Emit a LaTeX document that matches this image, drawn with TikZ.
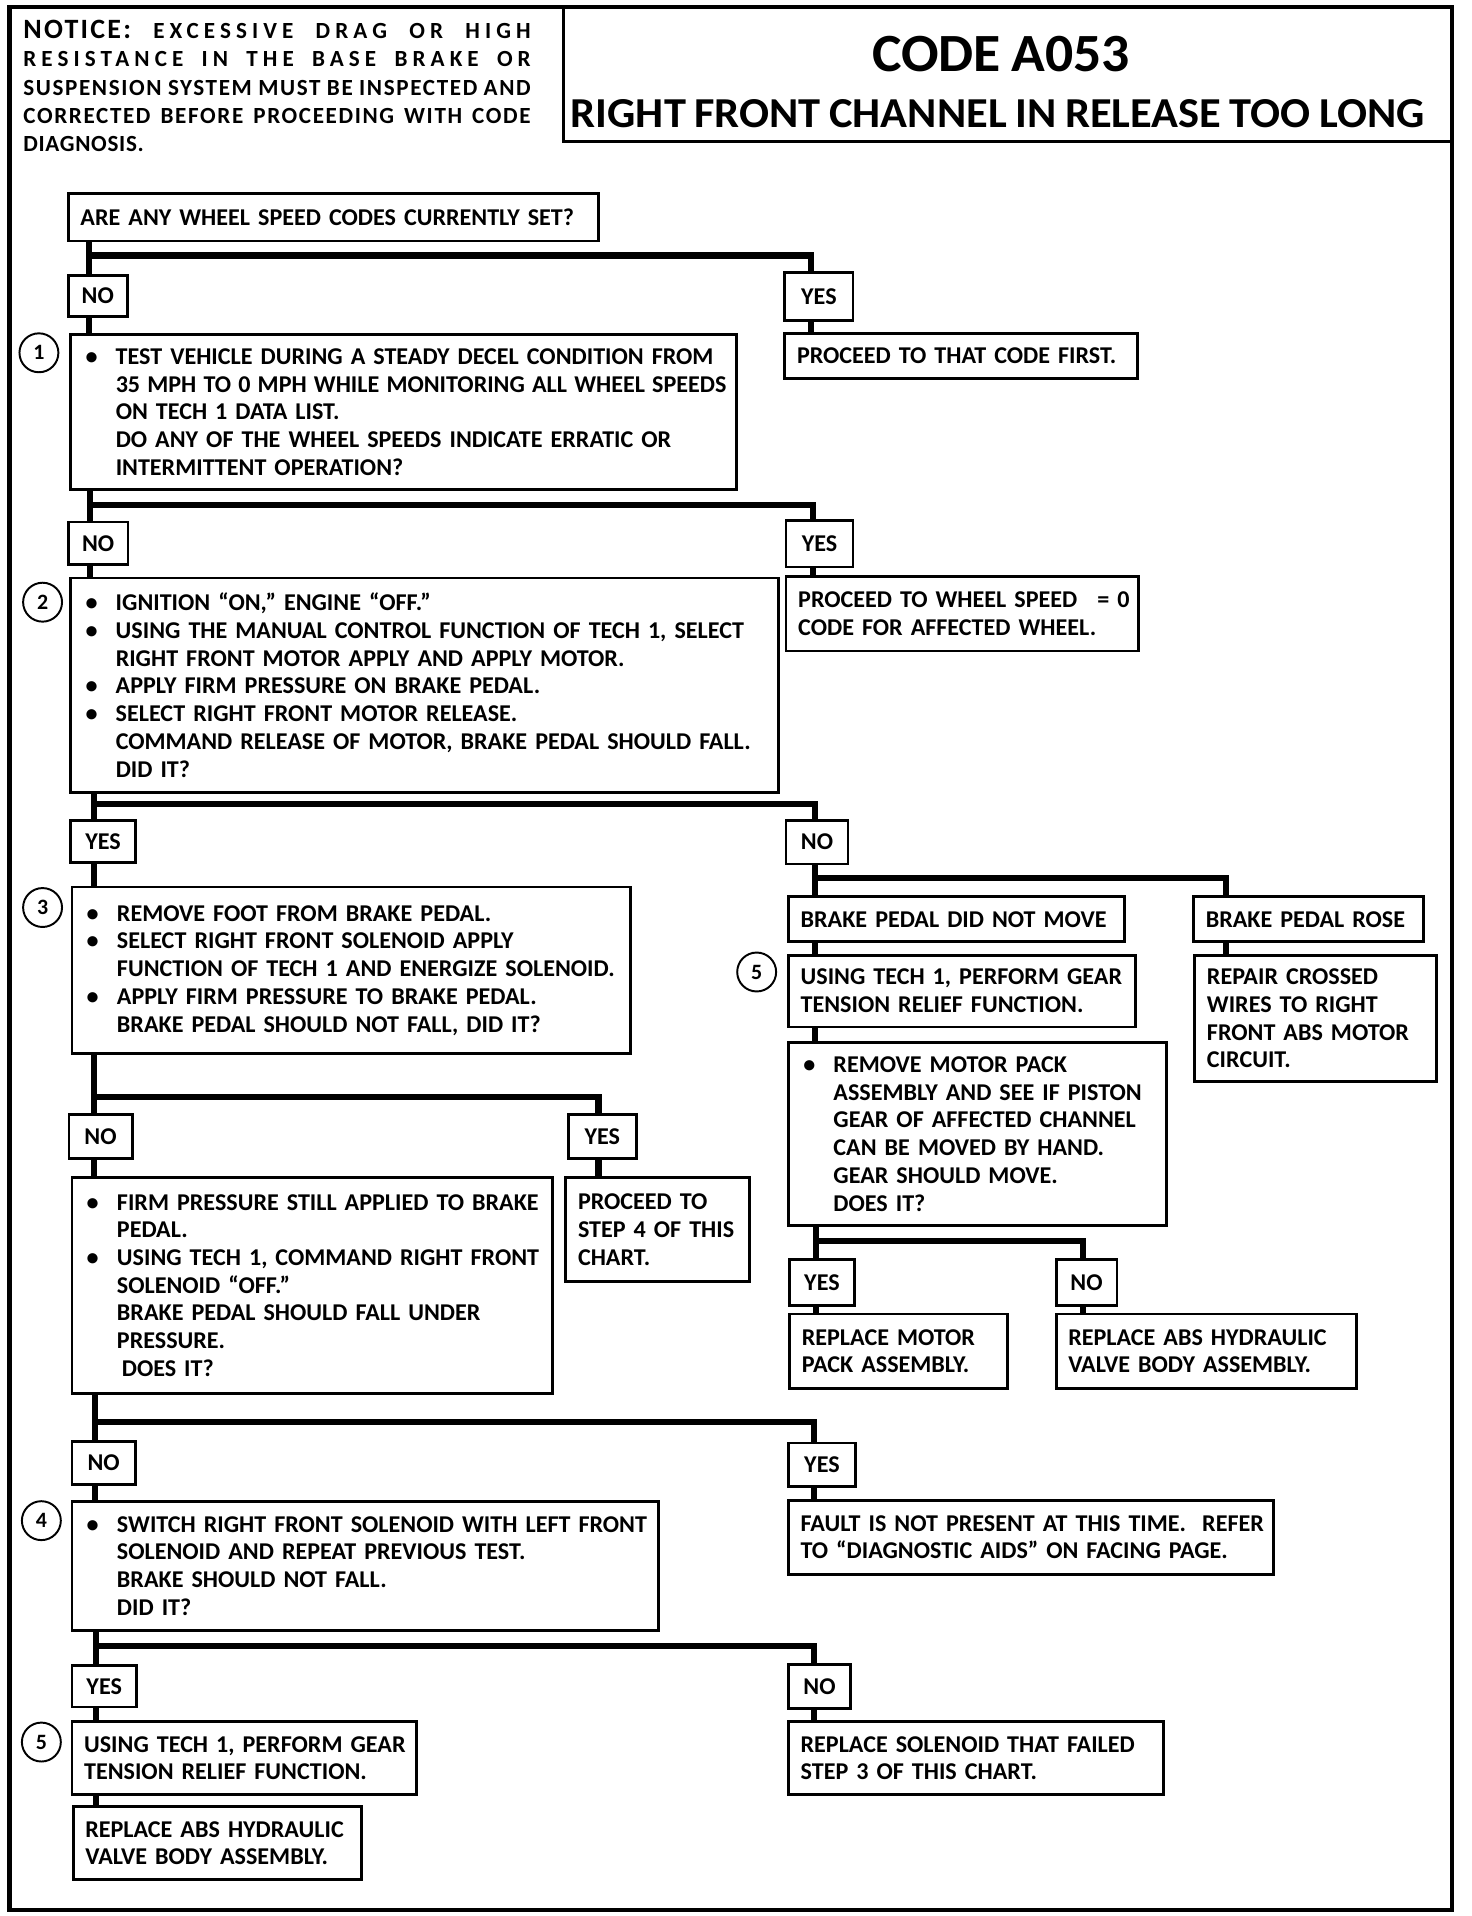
\documentclass[tikz,border=0pt]{standalone}
\usepackage{fontspec}
\setmainfont[WordSpace=0.85]{Carlito}
\newcommand\bul{\leavevmode\llap{\textbullet\hskip 15pt}}
\newcommand\ind{\leftskip=27pt\relax}
\newcommand\ls{\addfontfeature{LetterSpace=22}}
\newcommand\lsm{\addfontfeature{LetterSpace=7}}
\newcommand\flowbox[7][]{%
  \pgfmathsetmacro\fbw{#5-#3-20}%
  \pgfmathsetmacro\fbh{#6-#4}%
  \node[box,text width=\fbw pt,minimum height=\fbh pt,anchor=north west,#1] (#2) at (#3,#4) {#7\par};}
\newcommand\flowlbl[6]{%
  \pgfmathsetmacro\fbw{#4-#2}%
  \pgfmathsetmacro\fbh{#5-#3}%
  \node[lbl,minimum width=\fbw pt,minimum height=\fbh pt,anchor=north west] (#1) at (#2,#3) {#6};}
\tikzset{
  box/.style={draw, line width=2.3pt, fill=white, inner xsep=10pt, inner ysep=1pt, align=left,
    font=\bfseries\fontsize{19.8}{22.8}\selectfont},
  lbl/.style={draw, line width=2.3pt, fill=white, inner sep=0pt,
    font=\bfseries\fontsize{19.8}{20}\selectfont},
  conn/.style={line width=5pt, line join=miter},
  stepno/.style={draw, circle, line width=1.6pt, minimum size=32pt, inner sep=0pt,
    font=\bfseries\fontsize{18}{18}\selectfont},
  frame/.style={draw, line width=3.5pt, inner sep=0pt},
}
\begin{document}
\begin{tikzpicture}[x=1pt,y=-1pt]
\useasboundingbox (0,0) rectangle (1210,1575);
% outer frame and title box
\node[frame, minimum width=1186pt, minimum height=1564pt, anchor=north west] (frame) at (6,4) {};
\node[draw, line width=2.5pt, minimum width=730pt, minimum height=111pt, anchor=north west] (titlebox) at (462,4) {};
\node[anchor=base, inner sep=0pt] (code) at (823,59) {\resizebox{212pt}{29pt}{\bfseries CODE A053}};
\node[anchor=base west, inner sep=0pt] (title) at (469,105) {\resizebox{702pt}{23pt}{\bfseries RIGHT FRONT CHANNEL IN RELEASE TOO LONG}};
\node[anchor=base west, inner sep=0pt, text width=417pt, align=left,
      font=\bfseries\fontsize{19}{23.3}\selectfont] (notice) at (19,31.5) {%
  \makebox[\linewidth]{{\fontsize{23}{23}\selectfont\addfontfeature{LetterSpace=8}NOTICE:}\hfill {\ls EXCESSIVE}\hfill{\ls DRAG}\hfill{\ls OR}\hfill{\ls HIGH}}\\
  \makebox[\linewidth]{\ls RESISTANCE\hfill IN\hfill THE\hfill BASE\hfill BRAKE\hfill OR}\\
  \makebox[\linewidth]{\lsm SUSPENSION\hfill SYSTEM\hfill MUST\hfill BE\hfill INSPECTED\hfill AND}\\
  \makebox[\linewidth]{\lsm CORRECTED\hfill BEFORE\hfill PROCEEDING\hfill WITH\hfill CODE}\\
  {\addfontfeature{LetterSpace=3}DIAGNOSIS.}};

% ---------- boxes ----------
\flowbox{q0}{55}{158}{491}{197}{\mbox{ARE ANY WHEEL SPEED CODES CURRENTLY SET?}}
\flowlbl{no0}{55}{225}{103.5}{259}{NO}
\flowlbl{yes0}{644}{223}{700}{262}{YES}
\flowbox{p0}{644}{273}{934}{310}{\mbox{PROCEED TO THAT CODE FIRST.}}
\flowbox{box1}{57}{274}{604}{401}{\ind\bul\mbox{TEST VEHICLE DURING A STEADY DECEL CONDITION FROM}\\
  \mbox{\spaceskip=5.9pt\relax 35 MPH TO 0 MPH WHILE MONITORING ALL WHEEL SPEEDS}\\
  \mbox{ON TECH 1 DATA LIST.}\\
  \mbox{DO ANY OF THE WHEEL SPEEDS INDICATE ERRATIC OR}\\
  \mbox{INTERMITTENT OPERATION?}}
\node[stepno] (s1) at (32,290) {1};

\flowlbl{no1}{55}{428}{104}{463}{NO}
\flowlbl{yes1}{645}{427}{700}{465}{YES}
\flowbox{p1}{645}{473}{935}{534}{\mbox{PROCEED TO WHEEL SPEED \ \,= 0}\\ \mbox{CODE FOR AFFECTED WHEEL.}}
\flowbox{box2}{57}{474}{639}{650}{\ind\bul\mbox{IGNITION “ON,” ENGINE “OFF.”}\\
  \bul\mbox{USING THE MANUAL CONTROL FUNCTION OF TECH 1, SELECT}\\
  \mbox{RIGHT FRONT MOTOR APPLY AND APPLY MOTOR.}\\
  \bul\mbox{APPLY FIRM PRESSURE ON BRAKE PEDAL.}\\
  \bul\mbox{SELECT RIGHT FRONT MOTOR RELEASE.}\\
  \mbox{COMMAND RELEASE OF MOTOR, BRAKE PEDAL SHOULD FALL.}\\
  \mbox{DID IT?}}
\node[stepno] (s2) at (35,495) {2};

\flowlbl{yes2}{57}{673}{110}{708}{YES}
\flowlbl{no2}{645}{673}{696}{709}{NO}
\flowbox{box3}{58}{728}{517}{865}{\ind\bul\mbox{REMOVE FOOT FROM BRAKE PEDAL.}\\
  \bul\mbox{SELECT RIGHT FRONT SOLENOID APPLY}\\
  \mbox{FUNCTION OF TECH 1 AND ENERGIZE SOLENOID.}\\
  \bul\mbox{APPLY FIRM PRESSURE TO BRAKE PEDAL.}\\
  \mbox{BRAKE PEDAL SHOULD NOT FALL, DID IT?}}
\node[stepno] (s3) at (35,746) {3};

% right branch
\flowbox{bpdnm}{647}{736}{923}{773}{\mbox{BRAKE PEDAL DID NOT MOVE}}
\flowbox{bpr}{980}{736}{1169}{773}{\mbox{BRAKE PEDAL ROSE}}
\flowbox{gear5r}{647}{784}{932}{843}{\mbox{USING TECH 1, PERFORM GEAR}\\ \mbox{TENSION RELIEF FUNCTION.}}
\node[stepno] (s5r) at (622,799) {5};
\flowbox{repair}{981}{784}{1180}{888}{\mbox{REPAIR CROSSED}\\ \mbox{WIRES TO RIGHT}\\ \mbox{FRONT ABS MOTOR}\\ \mbox{CIRCUIT.}}
\flowbox{remove}{647}{856}{958}{1006}{\ind\bul\mbox{REMOVE MOTOR PACK}\\
  \mbox{ASSEMBLY AND SEE IF PISTON}\\
  \mbox{GEAR OF AFFECTED CHANNEL}\\
  \mbox{CAN BE MOVED BY HAND.}\\
  \mbox{GEAR SHOULD MOVE.}\\
  \mbox{DOES IT?}}
\flowlbl{yes6}{648}{1034}{701}{1072}{YES}
\flowlbl{no6}{867}{1034}{917}{1072}{NO}
\flowbox{replmotor}{648}{1079}{827}{1140}{\mbox{REPLACE MOTOR}\\ \mbox{PACK ASSEMBLY.}}
\flowbox{replabs}{867}{1079}{1114}{1140}{\mbox{REPLACE ABS HYDRAULIC}\\ \mbox{VALVE BODY ASSEMBLY.}}

% left lower
\flowlbl{no3}{55.5}{915}{107.5}{951}{NO}
\flowlbl{yes3}{466}{915}{522}{951}{YES}
\flowbox{firm}{58}{967}{453}{1144}{\ind\bul\mbox{FIRM PRESSURE STILL APPLIED TO BRAKE}\\
  \mbox{PEDAL.}\\
  \bul\mbox{USING TECH 1, COMMAND RIGHT FRONT}\\
  \mbox{SOLENOID “OFF.”}\\
  \mbox{BRAKE PEDAL SHOULD FALL UNDER}\\
  \mbox{PRESSURE.}\\
  \hskip4pt\mbox{DOES IT?}}
\flowbox{p3}{464}{967}{615}{1052}{\mbox{PROCEED TO}\\ \mbox{STEP 4 OF THIS}\\ \mbox{CHART.}}

\flowlbl{no4}{58}{1184}{110}{1219}{NO}
\flowlbl{yes4}{647}{1185}{702}{1221}{YES}
\flowbox{box4}{58}{1233}{540}{1339}{\ind\bul\mbox{SWITCH RIGHT FRONT SOLENOID WITH LEFT FRONT}\\
  \mbox{SOLENOID AND REPEAT PREVIOUS TEST.}\\
  \mbox{BRAKE SHOULD NOT FALL.}\\
  \mbox{DID IT?}}
\node[stepno] (s4) at (34,1250) {4};
\flowbox{fault}{647}{1232}{1046}{1293}{\mbox{FAULT IS NOT PRESENT AT THIS TIME. \ REFER}\\ \mbox{TO “DIAGNOSTIC AIDS” ON FACING PAGE.}}

\flowlbl{yes5}{58}{1368}{111}{1402}{YES}
\flowlbl{no5}{647}{1367}{698}{1403}{NO}
\flowbox{box5}{58}{1414}{341}{1474}{\mbox{USING TECH 1, PERFORM GEAR}\\ \mbox{TENSION RELIEF FUNCTION.}}
\node[stepno] (s5) at (34,1432) {5};
\flowbox{replsol}{647}{1414}{955}{1474}{\mbox{REPLACE SOLENOID THAT FAILED}\\ \mbox{STEP 3 OF THIS CHART.}}
\flowbox{last}{59}{1484}{296}{1544}{\mbox{REPLACE ABS HYDRAULIC}\\ \mbox{VALVE BODY ASSEMBLY.}}

% ---------- connectors ----------
% A
\coordinate (aL) at (73,210); \coordinate (aR) at (667,210);
\draw[conn] (q0.south -| aL) -- (no0.north -| aL);
\draw[conn] (aL) -- (aR) -- (yes0.north -| aR);
\draw[conn] (no0.south -| aL) -- (box1.north -| aL);
\draw[conn] (yes0.south -| aR) -- (p0.north -| aR);
% B
\coordinate (bL) at (74,415); \coordinate (bR) at (668,415);
\draw[conn] (box1.south -| bL) -- (no1.north -| bL);
\draw[conn] (bL) -- (bR) -- (yes1.north -| bR);
\draw[conn] (no1.south -| bL) -- (box2.north -| bL);
\draw[conn] (yes1.south -| bR) -- (p1.north -| bR);
% C
\coordinate (cL) at (77,661); \coordinate (cR) at (670,661);
\draw[conn] (box2.south -| cL) -- (yes2.north -| cL);
\draw[conn] (cL) -- (cR) -- (no2.north -| cR);
\draw[conn] (yes2.south -| cL) -- (box3.north -| cL);
% D
\coordinate (dL) at (670,722); \coordinate (dR) at (1008,722);
\draw[conn] (no2.south -| dL) -- (bpdnm.north -| dL);
\draw[conn] (dL) -- (dR) -- (bpr.north -| dR);
\draw[conn] (bpdnm.south -| dL) -- (gear5r.north -| dL);
\draw[conn] (gear5r.south -| dL) -- (remove.north -| dL);
\draw[conn] (bpr.south -| dR) -- (repair.north -| dR);
% F
\coordinate (fL) at (671,1020); \coordinate (fR) at (890,1020);
\draw[conn] (remove.south -| fL) -- (yes6.north -| fL);
\draw[conn] (fL) -- (fR) -- (no6.north -| fR);
\draw[conn] (yes6.south -| fL) -- (replmotor.north -| fL);
\draw[conn] (no6.south -| fR) -- (replabs.north -| fR);
% H
\coordinate (hL) at (77,902); \coordinate (hR) at (492,902);
\draw[conn] (box3.south -| hL) -- (no3.north -| hL);
\draw[conn] (hL) -- (hR) -- (yes3.north -| hR);
\draw[conn] (no3.south -| hL) -- (firm.north -| hL);
\draw[conn] (yes3.south -| hR) -- (p3.north -| hR);
% I
\coordinate (iL) at (78,1169); \coordinate (iR) at (669,1169);
\draw[conn] (firm.south -| iL) -- (no4.north -| iL);
\draw[conn] (iL) -- (iR) -- (yes4.north -| iR);
\draw[conn] (no4.south -| iL) -- (box4.north -| iL);
\draw[conn] (yes4.south -| iR) -- (fault.north -| iR);
% J
\coordinate (jL) at (79,1353); \coordinate (jR) at (669,1353);
\draw[conn] (box4.south -| jL) -- (yes5.north -| jL);
\draw[conn] (jL) -- (jR) -- (no5.north -| jR);
\draw[conn] (yes5.south -| jL) -- (box5.north -| jL);
\draw[conn] (box5.south -| jL) -- (last.north -| jL);
\draw[conn] (no5.south -| jR) -- (replsol.north -| jR);
\end{tikzpicture}
\end{document}
